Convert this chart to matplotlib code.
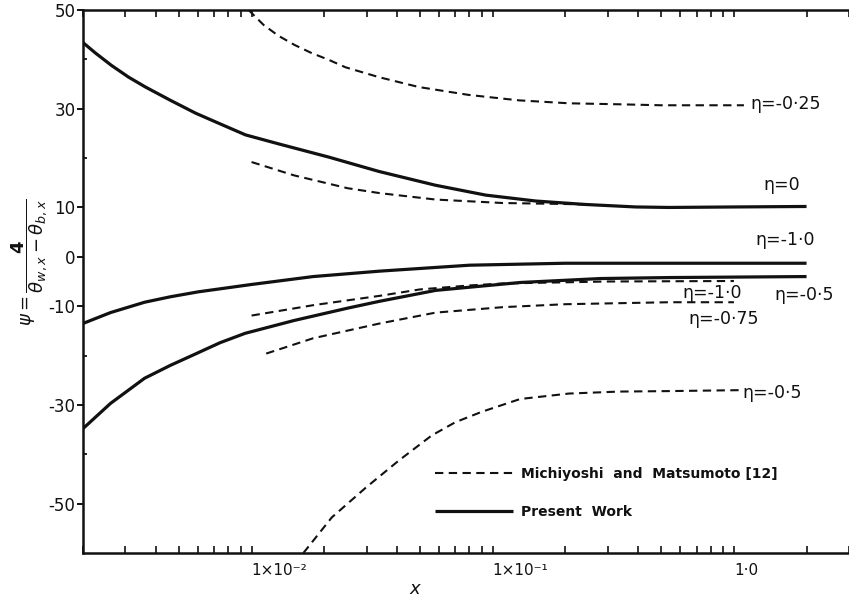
import matplotlib
matplotlib.use("Agg")
import matplotlib.pyplot as plt
from matplotlib.ticker import FixedLocator, LogLocator, NullFormatter
from matplotlib.lines import Line2D

# ---- data: psi vs x for several eta values ----
# Present work (solid)
x_pw_eta0 = [2e-3, 2.25e-3, 2.62e-3, 3.09e-3, 3.63e-3, 4.61e-3, 5.86e-3, 7.43e-3,
             9.44e-3, 1.29e-2, 2.09e-2, 3.37e-2, 5.79e-2, 9.35e-2, 0.151, 0.243,
             0.392, 0.537, 1.0, 2.0]
y_pw_eta0 = [43.4, 41.3, 38.8, 36.4, 34.4, 31.7, 29.1, 26.9,
             24.7, 22.9, 20.2, 17.3, 14.5, 12.5, 11.3, 10.6,
             10.1, 10.0, 10.1, 10.2]

x_pw_eta_m1 = [2e-3, 2.6e-3, 3.6e-3, 4.6e-3, 6e-3, 1e-2, 1.8e-2, 3.4e-2, 8e-2,
               0.2, 0.5, 1.0, 2.0]
y_pw_eta_m1 = [-13.5, -11.3, -9.2, -8.1, -7.1, -5.6, -4.0, -2.9, -1.7,
               -1.3, -1.3, -1.3, -1.3]

x_pw_eta_m05 = [2e-3, 2.6e-3, 3.6e-3, 4.6e-3, 5.9e-3, 7.4e-3, 9.4e-3, 1.5e-2,
                2.5e-2, 3.4e-2, 5.8e-2, 0.13, 0.28, 0.54, 2.0]
y_pw_eta_m05 = [-34.8, -29.7, -24.6, -22.0, -19.6, -17.4, -15.5, -12.9,
                -10.4, -9.0, -6.8, -5.2, -4.4, -4.2, -4.0]

# Michiyoshi and Matsumoto [12] (dashed)
x_mm_eta_m025 = [9.72e-3, 1.12e-2, 1.29e-2, 1.51e-2, 1.77e-2, 2.09e-2, 2.45e-2,
                 3.37e-2, 4.93e-2, 7.94e-2, 0.128, 0.207, 0.333, 0.5, 1.1]
y_mm_eta_m025 = [50.0, 47.0, 44.8, 42.9, 41.3, 39.9, 38.4,
                 36.4, 34.4, 32.8, 31.7, 31.1, 30.9, 30.7, 30.7]

x_mm_eta0 = [1e-2, 1.5e-2, 2.5e-2, 3.4e-2, 5.8e-2, 0.11, 0.2, 0.24]
y_mm_eta0 = [19.2, 16.5, 13.9, 12.9, 11.6, 10.9, 10.7, 10.6]

x_mm_eta_m1 = [1e-2, 1.8e-2, 3.4e-2, 5e-2, 8e-2, 0.11, 0.3, 1.0]
y_mm_eta_m1 = [-11.9, -9.8, -7.9, -6.6, -5.8, -5.4, -5.0, -4.9]

x_mm_eta_m075 = [1.15e-2, 1.8e-2, 3.4e-2, 5.8e-2, 0.11, 0.2, 0.54, 1.0]
y_mm_eta_m075 = [-19.6, -16.5, -13.5, -11.3, -10.2, -9.6, -9.2, -9.2]

x_mm_eta_m05 = [1.64e-2, 2.15e-2, 2.97e-2, 4.07e-2, 5.58e-2, 7.0e-2, 9.0e-2,
                0.13, 0.207, 0.333, 0.54, 1.1]
y_mm_eta_m05 = [-60.0, -52.8, -46.8, -41.3, -36.2, -33.5, -31.4,
                -28.8, -27.7, -27.3, -27.2, -27.0]

y_major = [50, 30, 10, 0, -10, -30, -50]
y_minor = [40, 20, -20, -40]
x_major = [1e-2, 1e-1, 1.0]
x_major_labels = ["1×10⁻²", "1×10⁻¹", "1·0"]

# curve labels: (text, x, y)
eta_labels = [
    ("η=-0·25", 1.17, 31.0),
    ("η=0", 1.33, 14.6),
    ("η=-1·0", 1.23, 3.4),
    ("η=-1·0", 0.61, -7.3),
    ("η=-0·5", 1.47, -7.8),
    ("η=-0·75", 0.65, -12.6),
    ("η=-0·5", 1.08, -27.6),
]

plt.rcParams["font.family"] = ["DejaVu Sans"]
ink = "#111111"

fig = plt.figure(figsize=(8.49, 6.01), dpi=100)
ax = fig.add_axes([83 / 849, 48 / 601, 1 - 83 / 849, (553 - 10) / 601])

solid_kw = dict(color=ink, lw=2.3, solid_capstyle="butt", solid_joinstyle="round")
dash_kw = dict(color=ink, lw=1.5, dashes=(4.0, 2.6))

ax.plot(x_pw_eta0, y_pw_eta0, **solid_kw)
ax.plot(x_pw_eta_m1, y_pw_eta_m1, **solid_kw)
ax.plot(x_pw_eta_m05, y_pw_eta_m05, **solid_kw)

ax.plot(x_mm_eta_m025, y_mm_eta_m025, **dash_kw)
ax.plot(x_mm_eta0, y_mm_eta0, **dash_kw)
ax.plot(x_mm_eta_m1, y_mm_eta_m1, **dash_kw)
ax.plot(x_mm_eta_m075, y_mm_eta_m075, **dash_kw)
ax.plot(x_mm_eta_m05, y_mm_eta_m05, **dash_kw)

for txt, tx, ty in eta_labels:
    ax.text(tx, ty, txt, fontsize=12.5, color=ink, ha="left", va="center")

ax.set_xscale("log")
ax.set_xlim(2e-3, 3.0)
ax.set_ylim(-60, 50)

ax.yaxis.set_major_locator(FixedLocator(y_major))
ax.yaxis.set_minor_locator(FixedLocator(y_minor))
ax.set_yticklabels([str(v) for v in y_major])
ax.xaxis.set_major_locator(FixedLocator(x_major))
ax.set_xticklabels(x_major_labels)
ax.xaxis.set_minor_locator(LogLocator(base=10, subs=range(2, 10)))
ax.xaxis.set_minor_formatter(NullFormatter())
for lbl in ax.get_xticklabels():
    lbl.set_ha("left")

ax.tick_params(axis="x", which="both", direction="in", top=True, bottom=True,
               length=5, width=1.2, labelsize=11, pad=7, colors=ink)
ax.tick_params(axis="y", which="major", direction="out", length=4, width=1.4,
               labelsize=12, pad=1.5, colors=ink)
ax.tick_params(axis="y", which="minor", direction="in", length=3, width=1.2)

for side in ("left", "bottom", "top"):
    ax.spines[side].set_linewidth(1.8)
    ax.spines[side].set_color(ink)
ax.spines["right"].set_visible(False)

handles = [Line2D([], [], **dash_kw), Line2D([], [], **solid_kw)]
leg = ax.legend(handles, ["Michiyoshi  and  Matsumoto [12]", "Present  Work"],
                loc="center left", bbox_to_anchor=(0.4595, 0.1105),
                frameon=False, borderpad=0, borderaxespad=0,
                handlelength=5.6, handletextpad=0.6, labelspacing=1.7,
                prop={"size": 10, "weight": "bold"})
for t in leg.get_texts():
    t.set_color(ink)

fig.text(30 / 849, 1 - 262 / 601,
         r"$\psi=\dfrac{\mathbf{4}}{\theta_{w,x}-\theta_{b,x}}$",
         rotation=90, ha="center", va="center", fontsize=13, color=ink)
fig.text(415 / 849, 1 - 589 / 601, "x", fontstyle="italic", fontsize=13,
         ha="center", va="center", color=ink)

fig.savefig("out.png", dpi=100)
